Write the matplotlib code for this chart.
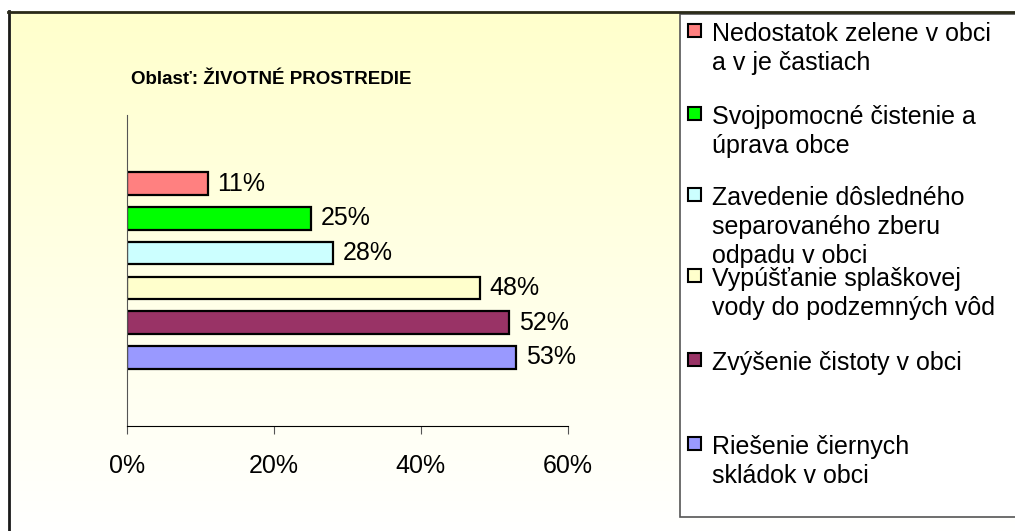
import numpy as np
import matplotlib
matplotlib.use("Agg")
import matplotlib.pyplot as plt
from matplotlib.patches import Rectangle

# Data
title = "Oblasť: ŽIVOTNÉ PROSTREDIE"
series = [
    "Nedostatok zelene v obci\na v je častiach",
    "Svojpomocné čistenie a\núprava obce",
    "Zavedenie dôsledného\nseparovaného zberu\nodpadu v obci",
    "Vypúšťanie splaškovej\nvody do podzemných vôd",
    "Zvýšenie čistoty v obci",
    "Riešenie čiernych\nskládok v obci",
]
values = [11, 25, 28, 48, 52, 53]
colors = ["#FF8080", "#00FF00", "#CCFFFF", "#FFFFCC", "#993366", "#9999FF"]
ticks = [0, 20, 40, 60]

# Layout (pixels)
W, H = 1015, 531
legend_baselines = [41, 124, 205, 286, 370, 454]
line_step = 29

plt.rcParams["font.family"] = ["Liberation Sans", "DejaVu Sans"]

fig = plt.figure(figsize=(W / 100, H / 100), dpi=100)

# background, frame and legend box in pixel space
bg = fig.add_axes([0, 0, 1, 1])
t = np.linspace(0, 1, 256)[:, None, None]
top_col = np.array([1.0, 1.0, 0.8])
bot_col = np.array([1.0, 1.0, 1.0])
bg.imshow(top_col * (1 - t) + bot_col * t, extent=(8, W + 2, H + 2, 11),
          aspect="auto", interpolation="bilinear")
bg.set_xlim(0, W)
bg.set_ylim(H, 0)
bg.axis("off")
bg.plot([9, 9], [11, H + 5], color="#1a1a1a", lw=2)
bg.plot([8, W + 5], [11.5, 11.5], color="#2a2a1a", lw=2)
bg.add_patch(Rectangle((680, 14), 360, 503, facecolor="white", edgecolor="#555555", lw=1.2))

for name, col, base in zip(series, colors, legend_baselines):
    bg.add_patch(Rectangle((688, base - 17.5), 13, 13, facecolor=col, edgecolor="black", lw=1.5))
    for k, line in enumerate(name.split("\n")):
        bg.text(712, base + k * line_step, line, fontsize=18, va="baseline", ha="left")

fig.text(271 / W, 1 - 80 / H, title, ha="center", va="center", fontsize=13.5,
         fontweight="bold")

# bar chart
ax = fig.add_axes([127 / W, 1 - 426 / H, 440.7 / W, 311 / H])
ax.patch.set_alpha(0)
ypos = np.arange(len(values))
ax.barh(ypos, values, height=0.65, color=colors, edgecolor="black", linewidth=1.6)
for y, v in zip(ypos, values):
    ax.annotate(f"{v}%", xy=(v, y), xytext=(7, 0), textcoords="offset points",
                va="center", ha="left", fontsize=18)
ax.set_xlim(0, 60)
ax.set_ylim(len(values) - 1 + 1.98, -1.98)
ax.set_xticks(ticks)
ax.set_xticklabels([f"{v}%" for v in ticks])
ax.set_yticks([])
ax.tick_params(axis="x", direction="out", length=6, color="#555555", labelsize=18, pad=14)
for s in ("top", "right"):
    ax.spines[s].set_visible(False)
ax.spines["left"].set_color("#555555")
ax.spines["bottom"].set_color("black")

fig.savefig("out.png", dpi=100)
